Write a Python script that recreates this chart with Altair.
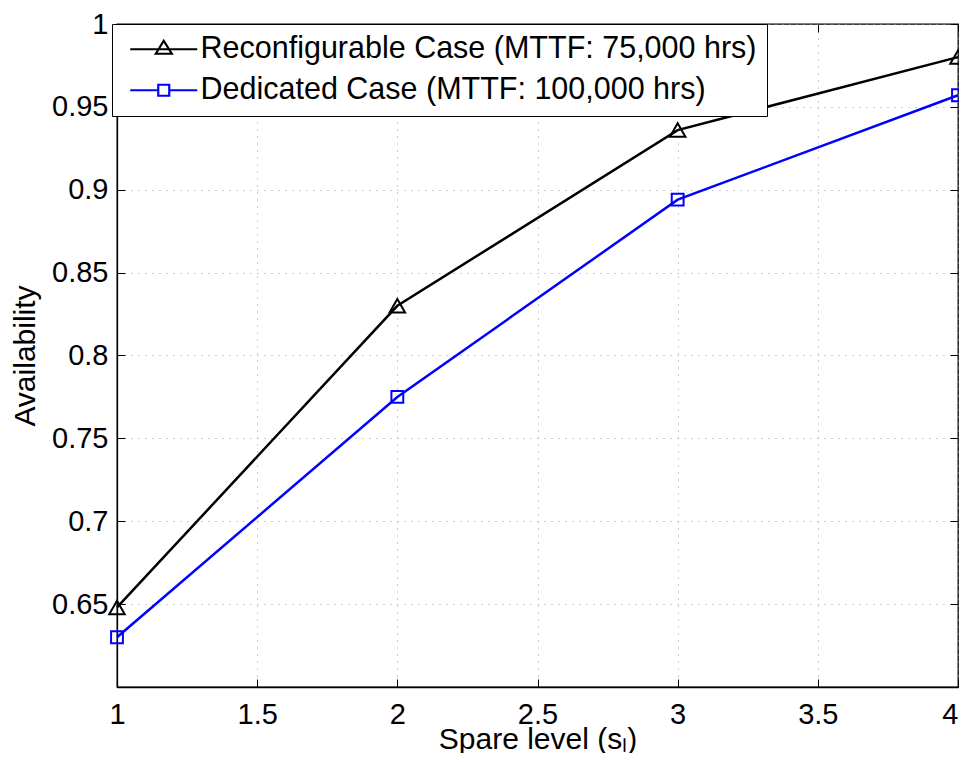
import altair as alt
import pandas as pd

FONT = "Liberation Sans"

spare_levels = [1, 2, 3, 4]
reconfig_avail = [0.648, 0.830, 0.936, 0.980]
dedicated_avail = [0.630, 0.775, 0.894, 0.957]
series_names = ["Reconfigurable Case (MTTF: 75,000 hrs)", "Dedicated Case (MTTF: 100,000 hrs)"]
series_colors = ["#000000", "#0000ff"]
series_shapes = ["triangle-up", "square"]
series_sizes = [240, 140]
x_ticks = [1, 1.5, 2, 2.5, 3, 3.5, 4]
y_ticks = [0.65, 0.7, 0.75, 0.8, 0.85, 0.9, 0.95, 1.0]

df = pd.DataFrame({
    "spare": spare_levels * 2,
    "avail": reconfig_avail + dedicated_avail,
    "series": [series_names[0]] * 4 + [series_names[1]] * 4,
})

# legend symbols: a line segment with the marker on it
legend_paths = [
    "M-0.7,0L6,0M1.85,0.45L2.65,-0.85L3.45,0.45Z",
    "M-0.7,0L2.1,0M3.2,0L6,0M2.1,-0.55L3.2,-0.55L3.2,0.55L2.1,0.55Z",
]

legend = alt.Legend(
    title=None, orient="none", legendX=-5, legendY=0,
    padding=10, rowPadding=10, labelOffset=48,
    labelFontSize=30.5, labelFont=FONT, labelLimit=1000, labelColor="black",
    fillColor="white", strokeColor="black", cornerRadius=0,
    symbolSize=400, symbolStrokeWidth=2.2, symbolOpacity=1,
    symbolFillColor="transparent",
)

color_scale = alt.Scale(domain=series_names, range=series_colors)

x_scale = alt.Scale(domain=[1, 4], nice=False)
y_scale = alt.Scale(domain=[0.6, 1.0], nice=False, zero=False)

x_axis = alt.Axis(
    values=x_ticks, format="~g", grid=True, gridDash=[1, 6], gridColor="#9a9a9a",
    gridWidth=1, domainColor="black", domainWidth=1.3, ticks=False, tickSize=0,
    labelFontSize=29, labelFont=FONT, labelColor="black", labelPadding=13,
    labelAlign={"condition": {"test": "datum.value >= 4", "value": "right"},
                "value": "center"},
    title="Spare level (sₗ)", titleFont=FONT, titleFontSize=30,
    titleFontWeight="normal", titleColor="black", titleY=61,
    titleBaseline="alphabetic",
)
y_axis = alt.Axis(
    values=y_ticks, format="~g", grid=True, gridDash=[1, 6], gridColor="#9a9a9a",
    gridWidth=1, domainColor="black", domainWidth=1.3, ticks=False, tickSize=0,
    labelFontSize=29, labelFont=FONT, labelColor="black", labelPadding=9,
    title="Availability", titleFont=FONT, titleFontSize=30,
    titleFontWeight="normal", titleColor="black", titleX=-83,
    titleBaseline="alphabetic",
)


def tick_axis(orient, values):
    # inward ticks: an axis shifted 8px into the plot with 8px outward ticks
    return alt.Axis(orient=orient, values=values, labels=False, domain=False,
                    grid=False, ticks=True, tickSize=8, tickColor="black",
                    tickWidth=1, offset=-8, title=None)


base = alt.Chart(df)

layers = []
for i, (name, col) in enumerate(zip(series_names, series_colors)):
    sub = base.transform_filter(alt.datum.series == name)
    layers.append(
        sub.mark_line(strokeWidth=2.5, color=col).encode(
            x=alt.X("spare:Q", scale=x_scale, axis=x_axis if i == 0 else None),
            y=alt.Y("avail:Q", scale=y_scale, axis=y_axis if i == 0 else None),
        )
    )
for name, col, shp, sz in zip(series_names, series_colors, series_shapes, series_sizes):
    sub = base.transform_filter(alt.datum.series == name)
    layers.append(
        sub.mark_point(filled=False, strokeWidth=2, shape=shp, size=sz,
                       color=col, opacity=1).encode(
            x=alt.X("spare:Q", scale=x_scale, axis=None),
            y=alt.Y("avail:Q", scale=y_scale, axis=None),
        )
    )

ticks_bl = base.mark_point(opacity=0).encode(
    x=alt.X("spare:Q", scale=x_scale, axis=tick_axis("bottom", x_ticks)),
    y=alt.Y("avail:Q", scale=y_scale, axis=tick_axis("left", y_ticks)),
)

ghost = base.mark_point(opacity=0, filled=False).encode(
    x=alt.X("spare:Q", scale=x_scale, axis=tick_axis("top", x_ticks)),
    y=alt.Y("avail:Q", scale=y_scale, axis=tick_axis("right", y_ticks)),
    color=alt.Color("series:N", scale=color_scale, legend=legend),
    shape=alt.Shape("series:N", scale=alt.Scale(domain=series_names, range=legend_paths),
                    legend=legend),
)

chart = alt.layer(*layers, ticks_bl, ghost).resolve_axis(
    x="independent", y="independent"
).properties(
    width=841, height=663, autosize="none",
    padding={"left": 109, "top": 16, "right": 1, "bottom": 66},
    background="white",
).configure_view(stroke="black", strokeWidth=1.3)

chart.save("out.html", embed_options={"renderer": "svg", "actions": False})
